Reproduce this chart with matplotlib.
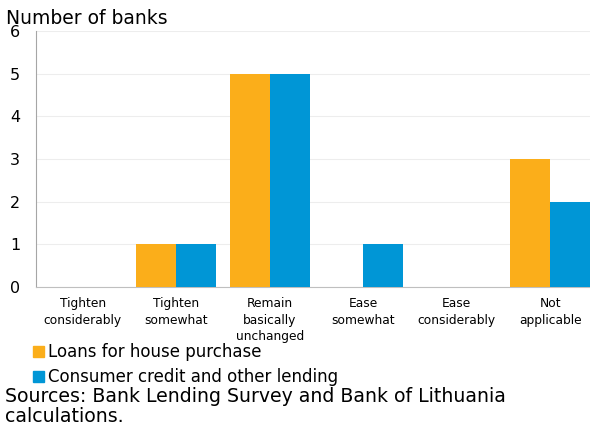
import matplotlib
matplotlib.use("Agg")
import matplotlib.pyplot as plt
import numpy as np
from matplotlib.patches import Rectangle

categories = ["Tighten\nconsiderably", "Tighten\nsomewhat", "Remain\nbasically\nunchanged",
              "Ease\nsomewhat", "Ease\nconsiderably", "Not\napplicable"]
house = [0, 1, 5, 0, 0, 3]
consumer = [0, 1, 5, 1, 0, 2]
series_names = ["Loans for house purchase", "Consumer credit and other lending"]
colors = ["#FBAE1A", "#0096D6"]

plt.rcParams['font.family'] = ['DejaVu Sans']

fig = plt.figure(figsize=(5.9, 4.25), dpi=100)
ax = fig.add_axes([36/590, 1 - 287/425, 561/590, (287-31)/425])

x = np.arange(len(categories))
w = 0.43
ax.bar(x - w/2, house, w, color=colors[0], zorder=3)
ax.bar(x + w/2, consumer, w, color=colors[1], zorder=3)

ax.set_xlim(-0.5, len(categories) - 0.5)
ax.set_ylim(0, 6)
ax.set_yticks(range(7))
ax.yaxis.grid(True, color="#EDEDED", linewidth=0.8, zorder=0)
ax.set_xticks(x)
ax.set_xticklabels(categories, fontsize=8.8, linespacing=1.33)
ax.tick_params(axis='x', length=0, pad=7.5)
ax.tick_params(axis='y', length=0, pad=11.5, labelsize=11.5)
for s in ["top", "right"]:
    ax.spines[s].set_visible(False)
ax.spines["left"].set_color("#A6A6A6")
ax.spines["bottom"].set_color("#BFBFBF")

fig.text(6/590, 1 - 18/425, "Number of banks", fontsize=13.5, va="center", ha="left")

# legend drawn as swatches plus text
for i, (name, c) in enumerate(zip(series_names, colors)):
    yc = 352 + i * 25
    fig.patches.append(Rectangle((33/590, 1 - (yc + 5)/425), 11/590, 11/425,
                                 transform=fig.transFigure, color=c))
    fig.text(48/590, 1 - yc/425, name, fontsize=12, va="center", ha="left")

fig.text(5/590, 1 - 396/425, "Sources: Bank Lending Survey and Bank of Lithuania",
         fontsize=13.6, va="center", ha="left")
fig.text(5/590, 1 - 417/425, "calculations.", fontsize=13.6, va="center", ha="left")

fig.savefig("out.png", dpi=100)
